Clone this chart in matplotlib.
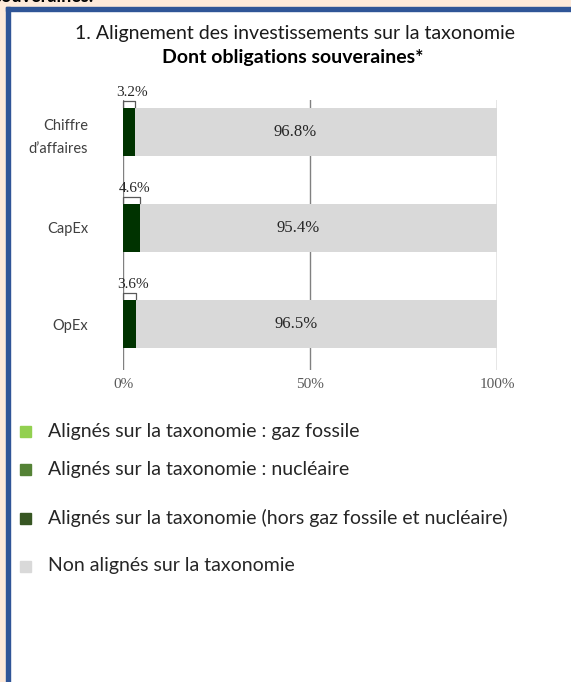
import matplotlib.pyplot as plt
from matplotlib.patches import Rectangle

# data
categories = ['Chiffre\nd\u2019affaires', 'CapEx', 'OpEx']
aligned_other = [3.2, 4.6, 3.6]
not_aligned = [96.8, 95.4, 96.5]
ticks = [0, 50, 100]
tick_labels = ['0%', '50%', '100%']
legend_labels = ['Alignés sur la taxonomie : gaz fossile',
                 'Alignés sur la taxonomie : nucléaire',
                 'Alignés sur la taxonomie (hors gaz fossile et nucléaire)',
                 'Non alignés sur la taxonomie']
legend_colors = ['#92d050', '#548235', '#375623', '#d9d9d9']

W, H = 571, 682
fig = plt.figure(figsize=(W / 100, H / 100), dpi=100)
fig.patch.set_facecolor('white')

# page frame: peach margin + blue border
peach = '#fde9d9'
blue = '#2f5597'
fig.patches.append(Rectangle((0, 0), 6 / W, 1, transform=fig.transFigure, color=peach, zorder=0))
fig.patches.append(Rectangle((0, 1 - 7 / H), 1, 7 / H, transform=fig.transFigure, color=peach, zorder=0))
fig.patches.append(Rectangle((6 / W, 0), 4 / W, 1 - 7 / H, transform=fig.transFigure, color=blue, zorder=1))
fig.patches.append(Rectangle((6 / W, 1 - 11 / H), 1, 4 / H, transform=fig.transFigure, color=blue, zorder=1))
fig.text(-6 / W, 1 - 2 / H, 'souveraines.', fontsize=13, fontweight='bold', family='Lato',
         va='baseline', ha='left', color='black', zorder=0.5)

# titles
fig.text(295 / W, 1 - 33 / H, '1. Alignement des investissements sur la taxonomie',
         fontsize=14, family='Lato', ha='center', va='center', color='#1a1a1a')
fig.text(293 / W, 1 - 58 / H, 'Dont obligations souveraines*',
         fontsize=14, family='Lato', fontweight='bold', ha='center', va='center', color='black')

ax = fig.add_axes([123 / W, 1 - 370 / H, 374 / W, 270 / H])
y = list(range(len(categories)))
ax.barh(y, aligned_other, height=0.5, color='#003300', zorder=3)
ax.barh(y, not_aligned, left=aligned_other, height=0.5, color='#d9d9d9', zorder=3)

for x in ticks:
    ax.axvline(x, color='#808080', lw=1, zorder=1)

ax.set_xlim(0, 100)
ax.set_ylim(2.479, -0.333)
for s in ax.spines.values():
    s.set_visible(False)
ax.set_xticks(ticks)
ax.set_xticklabels(tick_labels, family='Liberation Serif', fontsize=11, color='#595959')
ax.tick_params(axis='x', length=0, pad=6)
ax.set_yticks(y)
ax.set_yticklabels(categories, family='Lato', fontsize=10.5, color='#404040',
                   linespacing=1.75)
ax.tick_params(axis='y', length=0, pad=25)
ax.set_facecolor('none')

for i in y:
    a = aligned_other[i]
    n = not_aligned[i]
    top = i - 0.25
    ax.plot([0, 0, a, a], [top - 0.01, top - 0.07, top - 0.07, top - 0.01],
            color='#595959', lw=0.9, zorder=4, clip_on=False)
    ax.text(a / 2 + 0.8, top - 0.16, f'{a:.1f}%', family='Liberation Serif', fontsize=11,
            ha='center', va='center', color='#262626')
    ax.text(a + n / 2 - 5.5, i, f'{n:.1f}%', family='Liberation Serif', fontsize=12,
            ha='center', va='center', color='#262626', zorder=5)

# legend
rows = [431, 469, 518, 566]
for lab, col, yy in zip(legend_labels, legend_colors, rows):
    fig.patches.append(Rectangle((20 / W, 1 - (yy + 6) / H), 11 / W, 11 / H,
                                 transform=fig.transFigure, color=col))
    fig.text(48 / W, 1 - yy / H, lab, family='Lato', fontsize=14, color='#262626',
             ha='left', va='center')

fig.savefig('out.png', dpi=100)
